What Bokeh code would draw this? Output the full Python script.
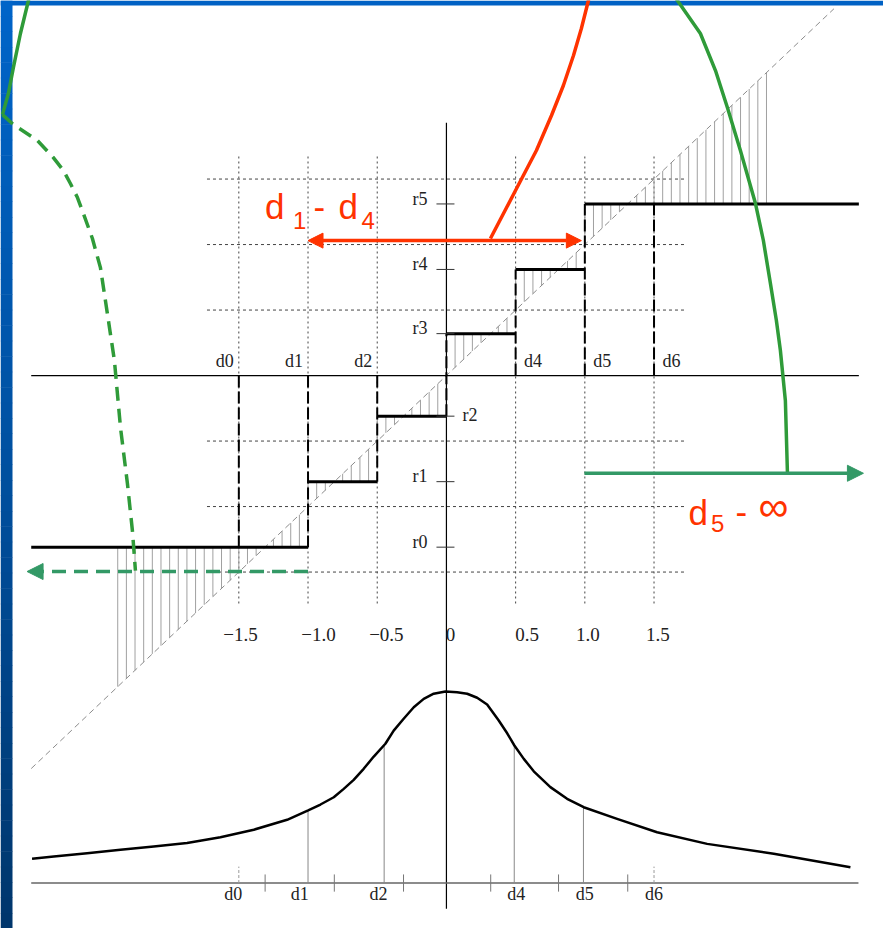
import numpy as np
from bokeh.plotting import figure
from bokeh.models import Range1d, Arrow, NormalHead
from bokeh.embed import file_html
from bokeh.resources import INLINE
from bokeh.core.properties import value

# ---------------- quantizer ----------------
decision = [-1.5, -1.0, -0.5, 0.0, 0.5, 1.0, 1.5]              # d0 .. d6
recon = [-1.31, -0.81, -0.31, 0.32, 0.81, 1.31]                # r0 .. r5
recon_names = ["r0", "r1", "r2", "r3", "r4", "r5"]
grid_values = [-1.5, -1.0, -0.5, 0.5, 1.0, 1.5]
xtick_labels = ["\u22121.5", "\u22121.0", "\u22120.5", "0", "0.5", "1.0", "1.5"]
xtick_label_pos = [-1.488, -0.925, -0.434, 0.029, 0.583, 1.022, 1.528]
input_span = [-3.0, 2.98]

# ---------------- density of the input ----------------
pdf_x = [-2.994, -2.837, -2.596, -2.355, -2.115, -1.874, -1.633, -1.392, -1.151,
         -0.999, -0.910, -0.814, -0.742, -0.670, -0.598, -0.525, -0.441, -0.381,
         -0.309, -0.236, -0.164, -0.092, -0.007, 0.077, 0.150, 0.222, 0.294,
         0.378, 0.439, 0.491, 0.559, 0.631, 0.751, 0.872, 0.992, 1.233, 1.522,
         1.884, 2.365, 2.919]
pdf_y = [0.127, 0.139, 0.156, 0.174, 0.191, 0.210, 0.240, 0.279, 0.331,
         0.380, 0.411, 0.449, 0.493, 0.540, 0.598, 0.662, 0.729, 0.798,
         0.860, 0.920, 0.964, 0.991, 1.003, 0.999, 0.991, 0.970, 0.935,
         0.851, 0.784, 0.720, 0.650, 0.585, 0.502, 0.441, 0.397, 0.336, 0.266,
         0.205, 0.153, 0.083]
pdf_cut_x = [-1.0, -0.45, 0.49, 0.99]
pdf_names = ["d0", "d1", "d2", "d4", "d5", "d6"]
pdf_label_pos = [-1.54, -1.06, -0.49, 0.505, 1.0, 1.50]

# ---------------- overlay annotations ----------------
red_curve_x = [0.318, 0.484, 0.650, 0.759, 0.845, 0.918, 0.975, 1.026, 1.033]
red_curve_y = [1.046, 1.382, 1.718, 1.985, 2.214, 2.443, 2.649, 2.863, 2.901]
red_arrow = dict(x0=-1.0, x1=0.975, y=1.03)

green_right_x = [1.644, 1.669, 1.835, 1.944, 2.030, 2.124, 2.233, 2.290, 2.341,
                 2.384, 2.413, 2.449, 2.464]
green_right_y = [2.901, 2.863, 2.611, 2.328, 2.046, 1.718, 1.313, 1.031, 0.702,
                 0.420, 0.191, -0.191, -0.746]
green_right_arrow = dict(x0=0.997, x1=3.013, y=-0.746)

green_left_x = [-3.012, -3.020, -3.078, -3.129, -3.165, -3.208]
green_left_y = [2.900, 2.863, 2.611, 2.351, 2.153, 1.992]
green_dash_x = [-3.208, -3.129, -2.955, -2.840, -2.767, -2.717, -2.666, -2.623,
                -2.558, -2.500, -2.464, -2.399, -2.355, -2.305, -2.269, -2.247]
green_dash_y = [1.992, 1.916, 1.794, 1.664, 1.565, 1.466, 1.359, 1.237,
                1.046, 0.824, 0.573, 0.115, -0.397, -0.824, -1.183, -1.489]
green_left_arrow = dict(x0=-1.0, x1=-3.030, y=-1.496)

RED = "#ff3300"
GREEN = "#2f9b39"
TEAL = "#339966"
SERIF = value("Liberation Serif")
SANS = value("Liberation Sans")

W, H = 883, 928
p = figure(width=W, height=H, x_range=Range1d(-3.222, 3.158), y_range=Range1d(-4.221, 2.863),
           output_backend="svg", toolbar_location=None, min_border=0,
           x_axis_type=None, y_axis_type=None)
p.grid.visible = False
p.outline_line_color = None
p.background_fill_color = "white"
p.border_fill_color = "white"
p.extra_y_ranges = {"pdf": Range1d(-0.238, 4.620)}

X_LO, X_HI = p.x_range.start, p.x_range.end
Y_LO, Y_HI = p.y_range.start, p.y_range.end
ux = (X_HI - X_LO) / W
uy = (Y_HI - Y_LO) / H

# slide frame: blue band on top, gradient band on the left
p.quad(left=X_LO, right=X_HI, top=Y_HI, bottom=Y_HI - 5 * uy, color="#0061c4", line_width=0)
n_band = 60
stops = np.array([[0x00, 0x64, 0xc8], [0x00, 0x50, 0xa0], [0x00, 0x36, 0x6c]], dtype=float)
tb = np.linspace(Y_HI, Y_LO, n_band + 1)
cols = []
for i in range(n_band):
    t = i / (n_band - 1) * 2
    k = min(int(t), 1)
    f = t - k
    c = stops[k] * (1 - f) + stops[k + 1] * f
    cols.append("#%02x%02x%02x" % tuple(int(round(v)) for v in c))
p.quad(left=X_LO, right=X_LO + 12 * ux, top=tb[:-1], bottom=tb[1:] - 0.5 * uy, color=cols, line_width=0)

# dotted grid
p.segment(x0=grid_values, y0=-1.74, x1=grid_values, y1=1.68, line_dash="2 3", line_color="#444", line_width=1)
p.segment(x0=-1.73, y0=grid_values, x1=1.73, y1=grid_values, line_dash="3 3", line_color="#444", line_width=1)

# quantization error hatching: vertical strokes between y = x and Q(x)
hx = np.arange(-38, 38) / 16.0
hx = hx[hx != 0]
q = np.array(recon)[np.searchsorted(np.array(decision[1:6]), hx, side="right")]
p.segment(x0=hx, y0=hx, x1=hx, y1=q, line_color="#a0a0a0", line_width=1)

# identity line
p.line([input_span[0], 2.8], [input_span[0], 2.8], line_dash="6 4", line_color="#8c8c8c", line_width=1)

# axes
p.segment(x0=input_span[0], y0=0, x1=input_span[1], y1=0, line_color="black", line_width=1.2)
p.segment(x0=0, y0=1.93, x1=0, y1=-4.07, line_color="black", line_width=1.2)

# staircase
left = [input_span[0]] + decision[1:6]
right = decision[1:6] + [input_span[1]]
p.segment(x0=left, y0=recon, x1=right, y1=recon, line_color="black", line_width=3)

# decision levels (dashed)
dash_y0 = [0, 0, 0, recon[2], 0, 0, 0]
dash_y1 = [recon[0], recon[0], recon[1], recon[3], recon[4], recon[5], recon[5]]
p.segment(x0=decision, y0=dash_y0, x1=decision, y1=dash_y1, line_dash="12 4",
          line_color="black", line_width=2)

# level ticks on the vertical axis
p.segment(x0=-0.072, y0=recon, x1=0.058, y1=recon, line_color="#333", line_width=1)

# labels r0..r5
lab_left = [i for i in range(6) if i != 2]
p.text(x=-0.137, y=[recon[i] + 0.04 for i in lab_left], text=[recon_names[i] for i in lab_left],
       text_font=SERIF, text_font_size="18px", text_color="#222",
       text_align="right", text_baseline="middle")
p.text(x=0.116, y=[recon[2] + 0.01], text=[recon_names[2]],
       text_font=SERIF, text_font_size="18px", text_color="#222",
       text_align="left", text_baseline="middle")

# labels d0..d6 on the horizontal axis (d3 unlabelled)
p.text(x=[d - 0.036 for d in decision[:3]], y=0.109, text=["d0", "d1", "d2"],
       text_font=SERIF, text_font_size="18px", text_color="#222",
       text_align="right", text_baseline="middle")
p.text(x=[d + 0.061 for d in decision[4:]], y=0.109, text=["d4", "d5", "d6"],
       text_font=SERIF, text_font_size="18px", text_color="#222",
       text_align="left", text_baseline="middle")

# input value labels
p.text(x=xtick_label_pos, y=-1.977, text=xtick_labels,
       text_font=SERIF, text_font_size="19px", text_color="#222",
       text_align="center", text_baseline="middle")

# ---------------- density panel ----------------
p.segment(x0=input_span[0], y0=0, x1=2.977, y1=0, y_range_name="pdf", line_color="#666", line_width=1.5)
p.segment(x0=pdf_cut_x, y0=0, x1=pdf_cut_x, y1=np.interp(pdf_cut_x, pdf_x, pdf_y),
          y_range_name="pdf", line_color="#888", line_width=1)
p.segment(x0=recon, y0=-0.045, x1=recon, y1=0.045, y_range_name="pdf", line_color="#777", line_width=1)
p.segment(x0=[decision[0], decision[6]], y0=0, x1=[decision[0], decision[6]], y1=0.086,
          y_range_name="pdf", line_dash="3 2", line_color="#999", line_width=1)
p.line(pdf_x, pdf_y, y_range_name="pdf", line_color="black", line_width=2.5, line_join="round")
p.text(x=pdf_label_pos, y=-0.06, text=pdf_names, y_range_name="pdf",
       text_font=SERIF, text_font_size="18px", text_color="#222",
       text_align="center", text_baseline="middle")

# ---------------- overlay ----------------
p.line(red_curve_x, red_curve_y, line_color=RED, line_width=3.5, line_join="round")
p.add_layout(Arrow(start=NormalHead(size=15, fill_color=RED, line_color=RED),
                   end=NormalHead(size=15, fill_color=RED, line_color=RED),
                   x_start=red_arrow["x1"], y_start=red_arrow["y"],
                   x_end=red_arrow["x0"], y_end=red_arrow["y"],
                   line_color=RED, line_width=3.5))

p.line(green_right_x, green_right_y, line_color=GREEN, line_width=3.5, line_join="round")
p.add_layout(Arrow(end=NormalHead(size=16, fill_color=TEAL, line_color=TEAL),
                   x_start=green_right_arrow["x0"], y_start=green_right_arrow["y"],
                   x_end=green_right_arrow["x1"], y_end=green_right_arrow["y"],
                   line_color=TEAL, line_width=3.5))

p.line(green_left_x, green_left_y, line_color=GREEN, line_width=3.5, line_join="round")
p.line(green_dash_x, green_dash_y, line_color=GREEN, line_width=3.5, line_dash="14 8", line_join="round")
p.add_layout(Arrow(end=NormalHead(size=16, fill_color=TEAL, line_color=TEAL),
                   x_start=green_left_arrow["x0"], y_start=green_left_arrow["y"],
                   x_end=green_left_arrow["x1"], y_end=green_left_arrow["y"],
                   line_color=TEAL, line_width=3.5, line_dash="14 8"))

# interval captions with subscripts
p.text(x=[-1.311, -0.961, -0.780], y=1.289, text=["d", "-", "d"],
       text_font=SANS, text_font_size="35px", text_color=RED,
       text_align="left", text_baseline="middle")
p.text(x=[-1.109, -0.614], y=1.186, text=["1", "4"],
       text_font=SANS, text_font_size="24px", text_color=RED,
       text_align="left", text_baseline="middle")
p.text(x=[1.749, 2.088], y=-1.042, text=["d", "-"],
       text_font=SANS, text_font_size="35px", text_color=RED,
       text_align="left", text_baseline="middle")
p.text(x=[2.255], y=-1.002, text=["\u221e"],
       text_font=SANS, text_font_size="42px", text_color=RED,
       text_align="left", text_baseline="middle")
p.text(x=[1.911], y=-1.132, text=["5"],
       text_font=SANS, text_font_size="24px", text_color=RED,
       text_align="left", text_baseline="middle")

open("out.html", "w").write(file_html(p, INLINE))
